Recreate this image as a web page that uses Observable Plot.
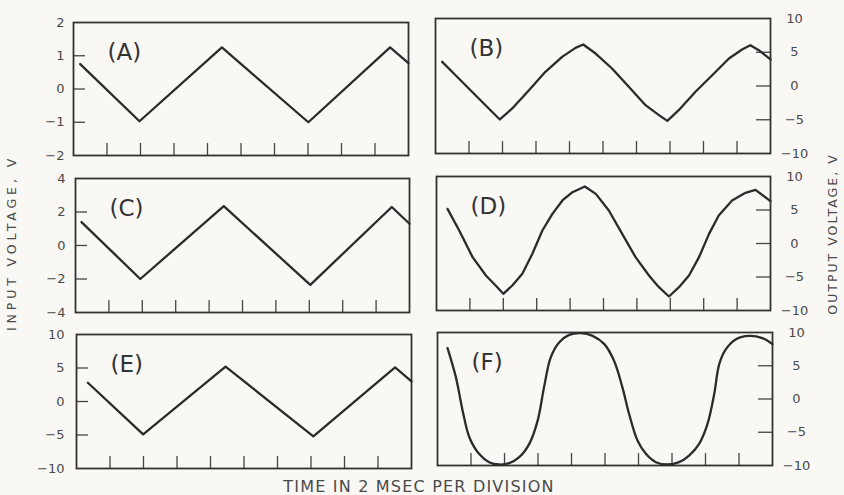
<!DOCTYPE html>
<html>
<head>
<meta charset="utf-8">
<script src="https://cdn.jsdelivr.net/npm/d3@7"></script>
<script src="https://cdn.jsdelivr.net/npm/@observablehq/plot@0.6"></script>
<style>
  html, body { margin: 0; padding: 0; background: #f9f8f4; }
  #chart { position: relative; width: 844px; height: 495px; overflow: hidden; background: #f9f8f4; font-family: "DejaVu Sans", sans-serif; color: #4a4a4a; }
  .panel { position: absolute; }
  .title { position: absolute; white-space: nowrap; transform: translate(-50%, -50%); color: #4a4a4a; }
  .vert { transform: translate(-50%, -50%) rotate(-90deg); }
</style>
</head>
<body>
<div id="chart"></div>
<script>
// ---- data (time in divisions, voltage in V) ----
const xTicks = [1, 2, 3, 4, 5, 6, 7, 8, 9];

const aX = [0.2, 1.97, 4.43, 7.01, 9.45, 10];
const aY = [0.75, -0.97, 1.25, -1.0, 1.25, 0.78];

const cX = [0.18, 1.94, 4.44, 7.03, 9.47, 10];
const cY = [1.4, -2.0, 2.35, -2.35, 2.3, 1.3];

const eX = [0.34, 1.99, 4.45, 7.07, 9.51, 10];
const eY = [2.8, -4.9, 5.2, -5.2, 5.1, 3.0];

const bX = [0.20, 0.60, 1.09, 1.59, 1.92, 2.29, 2.79, 3.28, 3.78, 4.18, 4.41, 4.78, 5.27, 5.77, 6.27, 6.67, 6.92, 7.26, 7.76, 8.26, 8.76, 9.15, 9.40, 9.65, 10.0];
const bY = [3.58, 1.60, -0.86, -3.33, -4.96, -3.33, -0.62, 2.10, 4.32, 5.65, 6.15, 4.81, 2.59, -0.12, -2.84, -4.32, -5.16, -3.58, -0.86, 1.60, 4.07, 5.41, 6.05, 5.31, 3.93];

const dX = [0.33, 0.68, 1.08, 1.48, 1.77, 2.00, 2.27, 2.57, 2.87, 3.17, 3.47, 3.77, 4.07, 4.44, 4.77, 5.16, 5.56, 5.96, 6.36, 6.66, 6.96, 7.26, 7.56, 7.86, 8.16, 8.45, 8.85, 9.25, 9.55, 10.0];
const dY = [5.17, 1.94, -2.04, -4.78, -6.27, -7.51, -6.27, -4.53, -1.54, 1.94, 4.43, 6.42, 7.66, 8.51, 7.41, 4.93, 1.44, -2.04, -4.78, -6.52, -7.91, -6.52, -4.78, -2.04, 1.44, 4.18, 6.42, 7.56, 8.01, 6.32];

const fX = [0.30, 0.55, 0.75, 0.95, 1.24, 1.54, 1.84, 2.14, 2.44, 2.74, 2.99, 3.18, 3.38, 3.63, 3.93, 4.28, 4.63, 4.98, 5.27, 5.52, 5.72, 5.97, 6.22, 6.52, 6.87, 7.21, 7.51, 7.81, 8.06, 8.26, 8.41, 8.61, 8.91, 9.30, 9.70, 10.0];
const fY = [7.65, 3.25, -1.75, -5.75, -8.25, -9.5, -9.85, -9.65, -8.75, -6.75, -3.25, 1.75, 6.25, 8.5, 9.65, 9.9, 9.5, 8.25, 5.75, 1.75, -2.25, -6.25, -8.25, -9.5, -9.85, -9.5, -8.5, -6.75, -3.75, 0.75, 5.25, 7.5, 9.0, 9.5, 9.15, 8.25];

const ticksA = [-2, -1, 0, 1, 2];
const ticksC = [-4, -2, 0, 2, 4];
const ticksE = [-10, -5, 0, 5, 10];
const ticksOut = [-10, -5, 0, 5, 10];

const panelLabels = ["(A)", "(B)", "(C)", "(D)", "(E)", "(F)"];
const inputTitle = "INPUT VOLTAGE, V";
const outputTitle = "OUTPUT VOLTAGE, V";
const timeTitle = "TIME IN 2 MSEC PER DIVISION";

// ---- layout ----
const M = {l: 45, r: 45, t: 12, b: 12};
const panels = [
  {label: panelLabels[0], xs: aX, ys: aY, ticks: ticksA, side: "left",  box: [73, 22, 408, 155], curve: "linear", pad: 9},
  {label: panelLabels[1], xs: bX, ys: bY, ticks: ticksOut, side: "right", box: [435, 18, 770, 153], curve: "linear", pad: 24},
  {label: panelLabels[2], xs: cX, ys: cY, ticks: ticksC, side: "left",  box: [75, 178, 409, 312], curve: "linear", pad: 10},
  {label: panelLabels[3], xs: dX, ys: dY, ticks: ticksOut, side: "right", box: [436, 176, 770, 310], curve: "linear", pad: 24},
  {label: panelLabels[4], xs: eX, ys: eY, ticks: ticksE, side: "left",  box: [76, 334, 411, 468], curve: "linear", pad: 12},
  {label: panelLabels[5], xs: fX, ys: fY, ticks: ticksOut, side: "right", box: [437, 332, 772, 465], curve: "catmull-rom", pad: 24}
];

const fmt = d => d < 0 ? "\u2212" + Math.abs(d) : String(d);
const ink = "#333";
const chart = document.getElementById("chart");

for (const p of panels) {
  const [x0, y0, x1, y1] = p.box;
  const w = x1 - x0, h = y1 - y0;
  const pts = p.xs.map((x, i) => ({x, y: p.ys[i]}));
  const dom = [p.ticks[0], p.ticks[p.ticks.length - 1]];
  const inner = p.ticks.slice(1, -1);
  const left = p.side === "left";
  const tickLen = left ? 12 : 15;
  const svg = Plot.plot({
    width: w + M.l + M.r,
    height: h + M.t + M.b,
    marginLeft: M.l, marginRight: M.r, marginTop: M.t, marginBottom: M.b,
    style: {background: "transparent", color: "#4a4a4a", fontFamily: "DejaVu Sans, sans-serif", fontSize: "13px", overflow: "visible"},
    x: {domain: [0, 10]},
    y: {domain: dom},
    marks: [
      Plot.axisX({ticks: xTicks, anchor: "bottom", tickSize: 12, dy: -12, tickFormat: () => "", stroke: "#444", strokeWidth: 1.3, label: null}),
      Plot.axisY({ticks: inner, anchor: p.side, tickSize: tickLen, dx: left ? tickLen : -tickLen, tickFormat: () => "", stroke: "#444", strokeWidth: 1.3, label: null}),
      Plot.axisY({ticks: p.ticks, anchor: p.side, tickSize: 0, tickPadding: p.pad, tickFormat: fmt, fontSize: 13, fill: "#4a4a4a", textAnchor: left ? "end" : "middle", label: null}),
      Plot.frame({stroke: ink, strokeWidth: 1.8}),
      Plot.line(pts, {x: "x", y: "y", stroke: "#2b2b2b", strokeWidth: 2.3, curve: p.curve, strokeLinejoin: "round"}),
      Plot.text([p.label], {frameAnchor: "top-left", text: d => d, dx: 34, dy: 30, textAnchor: "start", lineAnchor: "middle", fontSize: 23, fill: "#333"})
    ]
  });
  const div = document.createElement("div");
  div.className = "panel";
  div.style.left = (x0 - M.l) + "px";
  div.style.top = (y0 - M.t) + "px";
  div.appendChild(svg);
  chart.appendChild(div);
}

function addTitle(text, cx, cy, size, spacing, vertical) {
  const d = document.createElement("div");
  d.className = "title" + (vertical ? " vert" : "");
  d.textContent = text;
  d.style.left = cx + "px";
  d.style.top = cy + "px";
  d.style.fontSize = size + "px";
  d.style.letterSpacing = spacing + "px";
  chart.appendChild(d);
}
addTitle(inputTitle, 11, 243, 12.5, 3.9, true);
addTitle(outputTitle, 832, 234, 12.5, 2.0, true);
addTitle(timeTitle, 419, 486, 16, 1.2, false);
</script>
</body>
</html>
